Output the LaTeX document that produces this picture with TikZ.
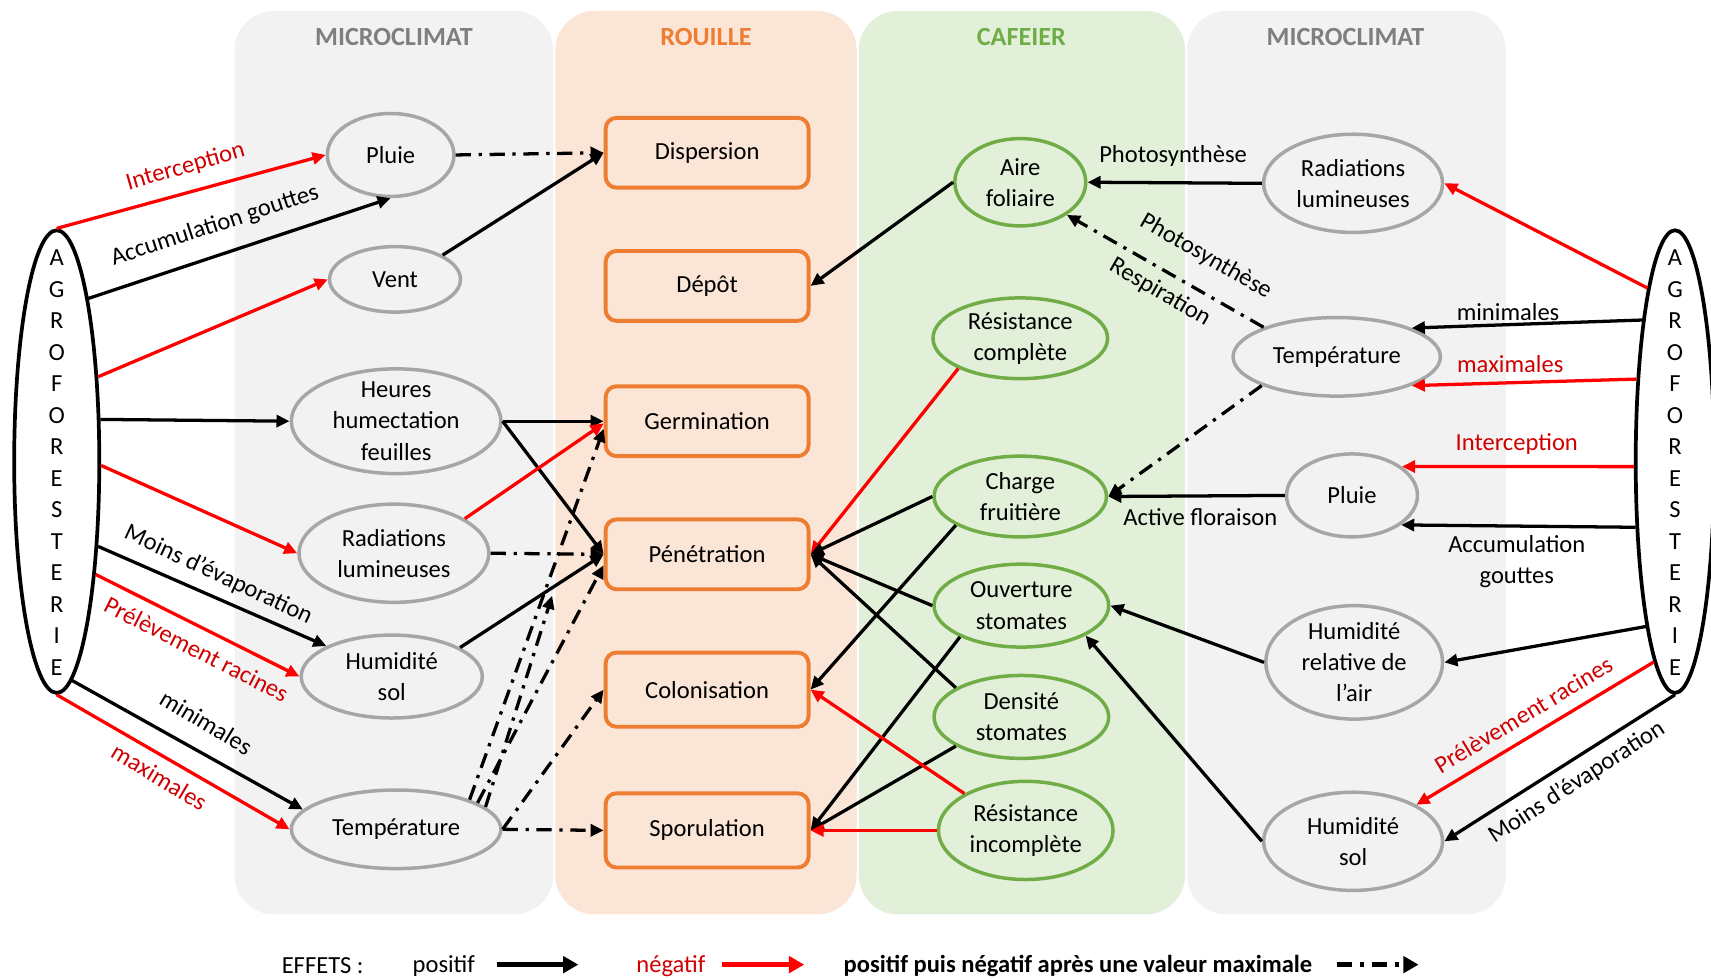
\documentclass[tikz,border=0pt]{standalone}
\usepackage{fontspec}
\setmainfont{Carlito}
\usetikzlibrary{shapes.geometric,arrows.meta}

\definecolor{mcfill}{HTML}{F2F2F2}
\definecolor{rofill}{HTML}{FBE5D6}
\definecolor{cafill}{HTML}{E2F0D9}
\definecolor{mcdraw}{HTML}{A6A6A6}
\definecolor{rodraw}{HTML}{ED7D31}
\definecolor{cadraw}{HTML}{70AD47}
\definecolor{mctitle}{HTML}{7F7F7F}
\definecolor{negline}{HTML}{FF0000}
\definecolor{negtext}{HTML}{D00000}

\tikzset{
  ellbase/.style={ellipse, line width=3.2pt, inner sep=0pt},
  mcell/.style={ellbase, draw=mcdraw, fill=mcfill},
  caell/.style={ellbase, draw=cadraw, fill=cafill},
  agro/.style={ellipse, draw=black, line width=3.4pt, inner sep=0pt},
  lbl/.style={inner sep=0pt, align=center},
  elab/.style={inner sep=0pt},
  rbox/.style={rectangle, rounded corners=10pt, draw=rodraw, fill=rofill,
    line width=3.6pt, minimum width=186pt, inner sep=0pt},
  panel/.style={rounded corners=36pt},
  ptitle/.style={inner sep=0pt, font=\fontsize{24}{28}\selectfont\bfseries},
  posarr/.style={draw=black, line width=3pt, -{Triangle[length=12pt,width=11pt]}},
  negarr/.style={posarr, draw=negline},
  ddarr/.style={posarr, dash pattern=on 14pt off 7pt on 3pt off 7pt},
  legpos/.style={draw=black, line width=4pt, -{Triangle[length=14pt,width=15pt]}},
  legneg/.style={legpos, draw=negline},
  legdd/.style={legpos, dash pattern=on 14pt off 7pt on 4pt off 7pt},
}

\begin{document}
\begin{tikzpicture}[x=1pt, y=-1pt, font=\fontsize{22.5}{28.5}\selectfont]
\useasboundingbox (0,0) rectangle (1568,897);

% column panels
\fill[panel, mcfill] (215,10) rectangle (507,838);
\fill[panel, rofill] (509,10) rectangle (785,838);
\fill[panel, cafill] (787,10) rectangle (1086,838);
\fill[panel, mcfill] (1088,10) rectangle (1380,838);

\node[ptitle, text=mctitle] (tMicroL) at (361,34) {MICROCLIMAT};
\node[ptitle, text=rodraw] (tRouille) at (647,34) {ROUILLE};
\node[ptitle, text=cadraw] (tCafeier) at (936,34) {CAFEIER};
\node[ptitle, text=mctitle] (tMicroR) at (1233,34) {MICROCLIMAT};

% agroforestry ellipses
\node[agro, minimum width=78, minimum height=424] (agroL) at (52,423) {};
\node[lbl, font=\fontsize{22.5}{28.85}\selectfont] (agroLt) at (52,424)
  {A\\G\\R\\O\\F\\O\\R\\E\\S\\T\\E\\R\\I\\E};
\node[agro, minimum width=72, minimum height=424] (agroR) at (1535,423) {};
\node[lbl, font=\fontsize{22.5}{28.85}\selectfont] (agroRt) at (1535,424)
  {A\\G\\R\\O\\F\\O\\R\\E\\S\\T\\E\\R\\I\\E};

% microclimate, left
\node[mcell, minimum width=116, minimum height=76] (pluieL) at (358,142) {};
\node[lbl] (pluieLt) at (pluieL) {Pluie};
\node[mcell, minimum width=120, minimum height=60] (ventL) at (362,256) {};
\node[lbl] (ventLt) at (ventL) {Vent};
\node[mcell, minimum width=192, minimum height=96] (heures) at (363,386) {};
\node[lbl] (heurest) at (heures) {Heures\\humectation\\feuilles};
\node[mcell, minimum width=174, minimum height=90] (radL) at (361,507) {};
\node[lbl] (radLt) at (radL) {Radiations\\lumineuses};
\node[mcell, minimum width=166, minimum height=76] (humL) at (359,620) {};
\node[lbl] (humLt) at (humL) {Humidité\\sol};
\node[mcell, minimum width=192, minimum height=72] (tempL) at (363,760) {};
\node[lbl] (tempLt) at (tempL) {Température};

% rust stages
\node[rbox, minimum height=64] (disp) at (648,140) {Dispersion};
\node[rbox, minimum height=64] (depot) at (648,262) {Dépôt};
\node[rbox, minimum height=64] (germ) at (648,386) {Germination};
\node[rbox, minimum height=64] (pen) at (648,508) {Pénétration};
\node[rbox, minimum height=68] (colo) at (648,632) {Colonisation};
\node[rbox, minimum height=68] (spor) at (648,761) {Sporulation};

% coffee plant
\node[caell, minimum width=120, minimum height=80] (aire) at (935,167) {};
\node[lbl] (airet) at (aire) {Aire\\foliaire};
\node[caell, minimum width=160, minimum height=74] (resC) at (935,310) {};
\node[lbl] (resCt) at (resC) {Résistance\\complète};
\node[caell, minimum width=158, minimum height=74] (charge) at (935,455) {};
\node[lbl] (charget) at (charge) {Charge\\fruitière};
\node[caell, minimum width=160, minimum height=76] (ouv) at (936,555) {};
\node[lbl] (ouvt) at (ouv) {Ouverture\\stomates};
\node[caell, minimum width=160, minimum height=76] (dens) at (936,657) {};
\node[lbl] (denst) at (dens) {Densité\\stomates};
\node[caell, minimum width=160, minimum height=90] (resI) at (940,761) {};
\node[lbl] (resIt) at (resI) {Résistance\\incomplète};

% microclimate, right
\node[mcell, minimum width=164, minimum height=90] (radR) at (1240,168) {};
\node[lbl] (radRt) at (radR) {Radiations\\lumineuses};
\node[mcell, minimum width=190, minimum height=72] (tempR) at (1225,327) {};
\node[lbl] (tempRt) at (tempR) {Température};
\node[mcell, minimum width=120, minimum height=76] (pluieR) at (1239,454) {};
\node[lbl] (pluieRt) at (pluieR) {Pluie};
\node[mcell, minimum width=162, minimum height=104] (humRel) at (1241,607) {};
\node[lbl] (humRelt) at (humRel) {Humidité\\relative de\\l’air};
\node[mcell, minimum width=164, minimum height=90] (humSolR) at (1240,771) {};
\node[lbl] (humSolRt) at (humSolR) {Humidité\\sol};

% agroforestry -> left microclimate
\draw[negarr] (agroL.north) -- (pluieL.west);
\draw[posarr] (agroL.79.7) -- (pluieL.south);
\draw[negarr] (agroL.64) -- (ventL.west);
\draw[posarr] (agroL.44) -- (heures.west);
\draw[negarr] (agroL.355.6) -- (radL.west);
\draw[posarr] (agroL.296.3) -- (humL.155);
\draw[negarr] (agroL.289.2) -- (humL.west);
\draw[posarr] (agroL.274.6) -- (tempL.168);
\draw[negarr] (agroL.south) -- (tempL.west);

% left microclimate -> rust
\coordinate (tcross) at (506,546);
\draw[ddarr] (pluieL.east) -- (disp.west);
\draw[posarr] (ventL.27) -- (disp.west);
\draw[posarr] (heures.east) -- (germ.west);
\draw[posarr] (heures.east) -- (pen.west);
\draw[negarr] (radL.26.6) -- ([yshift=-2pt]germ.west);
\draw[ddarr] (radL.east) -- (pen.west);
\draw[posarr] (humL.23) -- (pen.west);
\draw[ddarr] (tempL.22) -- ([yshift=-7pt]germ.west);
\draw[ddarr] (tempL.14) -- (tcross);
\draw[ddarr] (tempL.18) -- ([yshift=-10pt]pen.west);
\draw[ddarr] (tempL.east) -- (colo.west);
\draw[ddarr] (tempL.east) -- (spor.west);

% coffee plant -> rust
\draw[posarr] (aire.west) -- (depot.east);
\draw[negarr] (resC.206.1) -- (pen.east);
\draw[posarr] (charge.west) -- (pen.east);
\draw[posarr] (charge.204.4) -- (colo.east);
\draw[posarr] (ouv.west) -- (pen.east);
\draw[posarr] (ouv.207.4) -- (spor.east);
\draw[posarr] (dens.156) -- (pen.east);
\draw[posarr] (dens.204.9) -- (spor.east);
\draw[negarr] (resI.149) -- (colo.east);
\draw[negarr] (resI.west) -- (spor.east);

% right microclimate -> coffee plant
\draw[posarr] (radR.west) -- (aire.east);
\draw[ddarr] (tempR.158) -- (aire.325);
\draw[ddarr] (tempR.201.2) -- (charge.east);
\draw[posarr] (pluieR.west) -- (charge.east);
\draw[posarr] (humRel.west) -- (ouv.east);
\draw[posarr] (humSolR.west) -- (ouv.335);

% agroforestry -> right microclimate
\draw[negarr] (agroR.99.6) -- (radR.east);
\draw[posarr] (agroR.103.4) -- (tempR.21);
\draw[negarr] (agroR.115.5) -- (tempR.339);
\draw[negarr] (agroR.187.9) -- (pluieR.30.7);
\draw[posarr] (agroR.239.2) -- (pluieR.329.3);
\draw[posarr] (agroR.260.25) -- (humRel.east);
\draw[negarr] (agroR.264.6) -- (humSolR.30);
\draw[posarr] (agroR.south) -- (humSolR.east);

% connector labels
\node[elab, text=negtext, rotate=16] (lInterL) at (170,153) {Interception};
\node[elab, rotate=18] (lAccL) at (197,207) {Accumulation gouttes};
\node[elab, rotate=-25] (lMoinsL) at (200,527) {Moins d’évaporation};
\node[elab, text=negtext, rotate=-27] (lPrelL) at (180,595) {Prélèvement racines};
\node[elab, rotate=-31] (lMinL) at (189,662) {minimales};
\node[elab, text=negtext, rotate=-31] (lMaxL) at (146,712) {maximales};
\node[elab] (lPhoto1) at (1075,143) {Photosynthèse};
\node[elab, rotate=-30] (lPhoto2) at (1105,235) {Photosynthèse};
\node[elab, rotate=-30] (lResp) at (1063,268) {Respiration};
\node[elab] (lActive) at (1100,474) {Active floraison};
\node[elab] (lMinR) at (1382,286) {minimales};
\node[elab, text=negtext] (lMaxR) at (1384,334) {maximales};
\node[elab, text=negtext] (lInterR) at (1390,407) {Interception};
\node[elab, align=center] (lAccR) at (1390,515) {Accumulation\\gouttes};
\node[elab, text=negtext, rotate=31] (lPrelR) at (1396,655) {Prélèvement racines};
\node[elab, rotate=33] (lMoinsR) at (1445,717) {Moins d’évaporation};

% legend
\node[elab, anchor=west] (legEffets) at (258,885) {EFFETS :};
\node[elab, anchor=west] (legPos) at (378,885) {positif};
\coordinate (lp1) at (455,884);
\coordinate (lp2) at (530,884);
\draw[legpos] (lp1) -- (lp2);
\node[elab, anchor=west, text=negtext] (legNeg) at (583,885) {négatif};
\coordinate (ln1) at (662,884);
\coordinate (ln2) at (737,884);
\draw[legneg] (ln1) -- (ln2);
\node[elab, anchor=west, font=\fontsize{22.5}{28.5}\selectfont\bfseries] (legPN) at (773,885)
  {positif puis négatif après une valeur maximale};
\coordinate (ld1) at (1225,884);
\coordinate (ld2) at (1300,884);
\draw[legdd] (ld1) -- (ld2);
\end{tikzpicture}
\end{document}
